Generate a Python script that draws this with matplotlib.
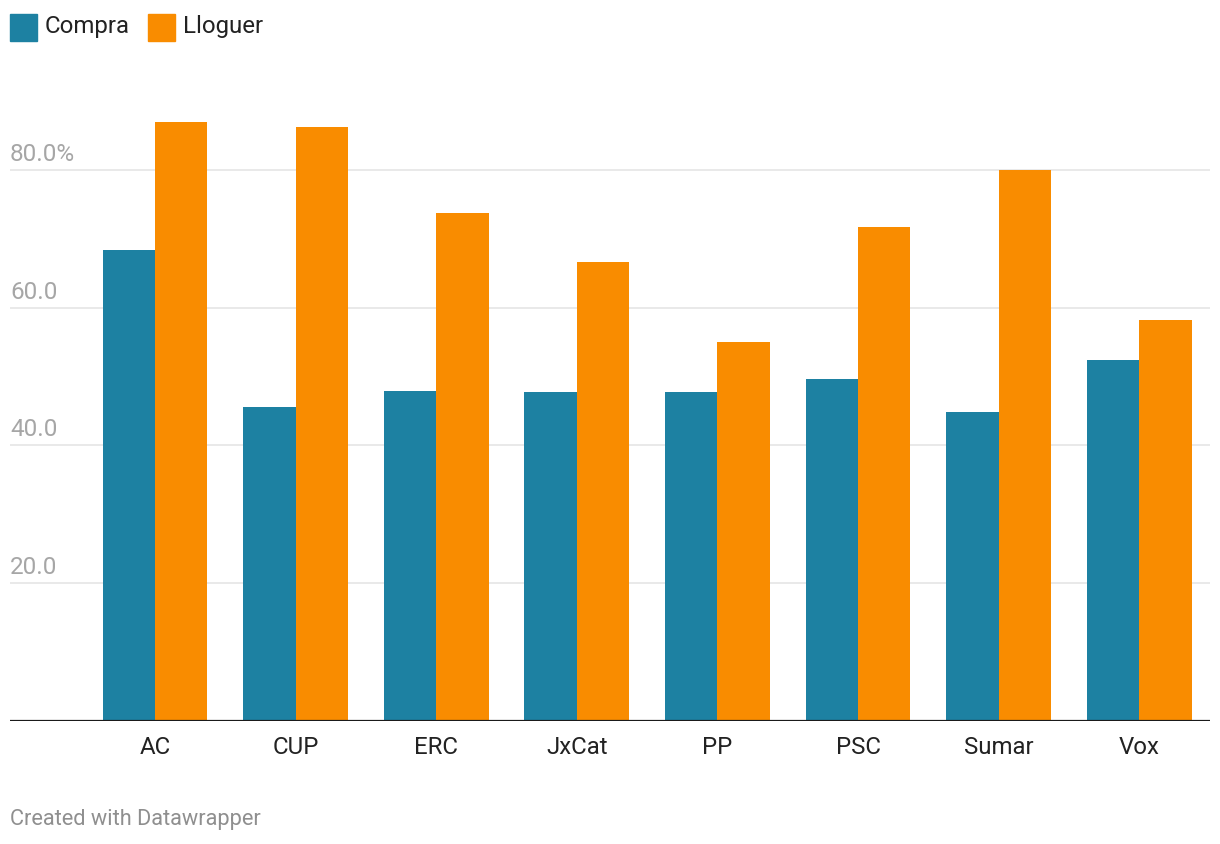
import matplotlib
matplotlib.use("Agg")
import matplotlib.pyplot as plt
import numpy as np

# data
parties = ["AC", "CUP", "ERC", "JxCat", "PP", "PSC", "Sumar", "Vox"]
compra = [68.4, 45.6, 47.9, 47.8, 47.8, 49.7, 44.9, 52.4]
lloguer = [87.0, 86.2, 73.8, 66.6, 55.0, 71.7, 80.0, 58.2]
yticks = [20, 40, 60, 80]
ytick_labels = ["20.0", "40.0", "60.0", "80.0%"]

teal = "#1d81a2"
orange = "#f98c00"

plt.rcParams["font.family"] = ["Roboto", "DejaVu Sans"]

fig = plt.figure(figsize=(12.2, 8.44), dpi=100)
W, H = 1220, 844
# axes box in pixels: x 10..1210, y 101..721
ax = fig.add_axes([10 / W, (H - 721) / H, 1200 / W, 620 / H])

x = np.arange(len(parties))
w = 0.373
ax.bar(x - w / 2, compra, width=w, color=teal, zorder=3)
ax.bar(x + w / 2, lloguer, width=w, color=orange, zorder=3)

ax.set_xlim(-1.031, 7.503)
ax.set_ylim(0, 90)

# gridlines + labels sitting above them
for v, lab in zip(yticks, ytick_labels):
    ax.axhline(v, color="#e3e3e3", linewidth=1.1, zorder=1)
    ax.annotate(lab, xy=(0, v), xycoords=("axes fraction", "data"),
                xytext=(0, 9), textcoords="offset pixels",
                ha="left", va="baseline", fontsize=17.5, color="#a6a6a6")

ax.axhline(0, color="#1a1a1a", linewidth=1.6, zorder=4)

for s in ax.spines.values():
    s.set_visible(False)
ax.set_yticks([])
ax.set_xticks(x)
ax.set_xticklabels(parties, fontsize=17.3, color="#222222")
ax.tick_params(axis="x", length=0, pad=11)

# legend drawn by hand like datawrapper
fig.patches.append(plt.Rectangle((10 / W, 1 - 41 / H), 27 / W, 27 / H,
                                 transform=fig.transFigure, color=teal))
fig.text(45 / W, 1 - 27 / H, "Compra", fontsize=17.3, color="#222222",
         va="center", ha="left")
fig.patches.append(plt.Rectangle((148 / W, 1 - 41 / H), 27 / W, 27 / H,
                                 transform=fig.transFigure, color=orange))
fig.text(183 / W, 1 - 27 / H, "Lloguer", fontsize=17.3, color="#222222",
         va="center", ha="left")

fig.text(10 / W, 1 - 819 / H, "Created with Datawrapper", fontsize=15.7,
         color="#8f8f8f", va="center", ha="left")

fig.savefig("out.png", dpi=100)
